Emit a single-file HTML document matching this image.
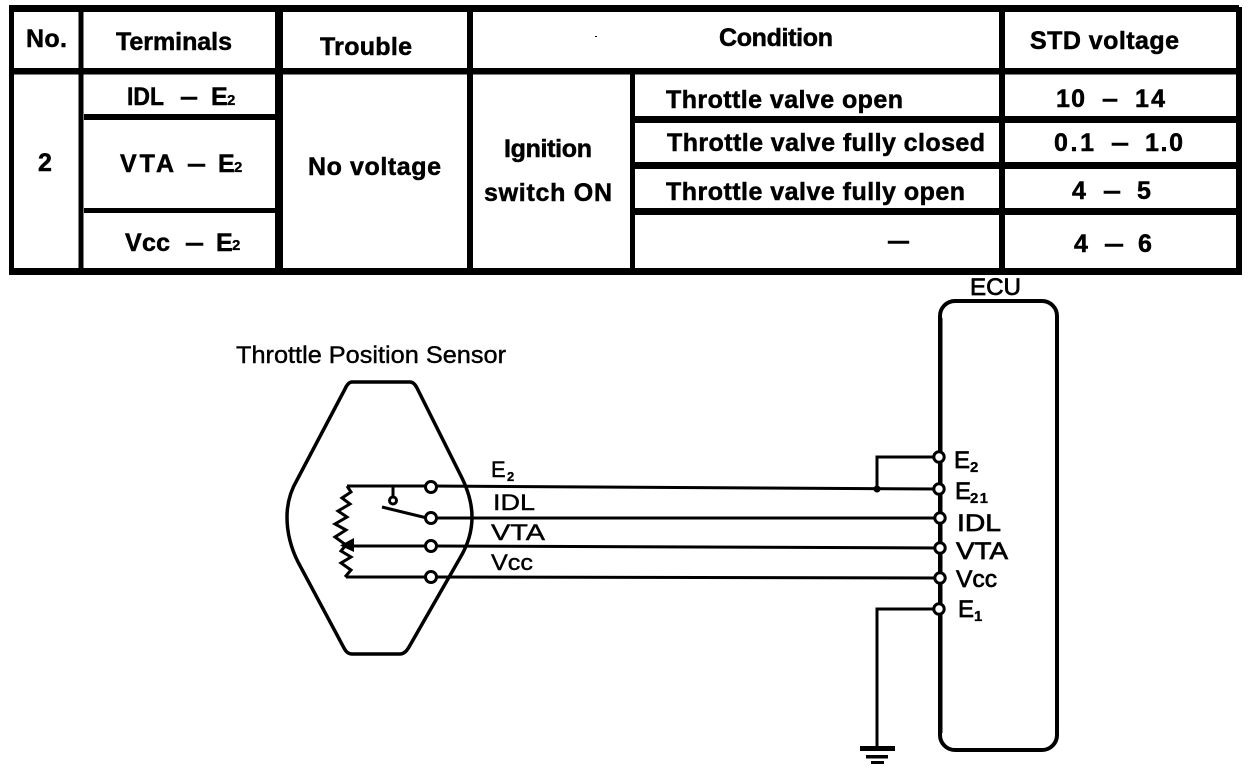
<!DOCTYPE html>
<html>
<head>
<meta charset="utf-8">
<style>
html,body{margin:0;padding:0;background:#fff;}
svg{display:block;}
text{font-family:"Liberation Sans",sans-serif;fill:#000;}
.t{font-weight:bold;font-size:25px;stroke:#000;stroke-width:.5px;}
.d{font-size:24px;stroke:#000;stroke-width:.4px;}
.w{font-size:22px;stroke:#000;stroke-width:.4px;}
.e{font-size:24px;stroke:#000;stroke-width:.7px;}
.s{font-size:15px;font-weight:bold;stroke:#000;stroke-width:.3px;}
</style>
</head>
<body>
<svg width="1248" height="770" viewBox="0 0 1248 770" xmlns="http://www.w3.org/2000/svg">
<rect width="1248" height="770" fill="#fff"/>
<!-- table lines -->
<g fill="#000">
<rect x="9" y="5" width="1230" height="7"/>
<rect x="9" y="268" width="1233" height="7"/>
<rect x="9" y="5" width="5" height="270"/>
<rect x="1236" y="7" width="6" height="268"/>
<rect x="9" y="68" width="1233" height="6.5"/>
<rect x="78.500" y="5" width="5" height="270"/>
<rect x="275" y="5" width="8" height="270"/>
<rect x="467" y="5" width="6" height="270"/>
<rect x="630" y="70" width="5" height="205"/>
<rect x="999" y="5" width="6" height="270"/>
<rect x="84" y="114" width="192" height="6"/>
<rect x="84" y="208" width="192" height="5"/>
<rect x="635" y="116" width="602" height="7"/>
<rect x="635" y="162" width="602" height="7"/>
<rect x="635" y="208" width="602" height="7"/>
<rect x="595" y="36" width="2" height="1"/>
</g>
<!-- table text -->
<text class="t" x="26" y="47" textLength="41" lengthAdjust="spacing">No.</text>
<text class="t" x="116" y="50" textLength="116" lengthAdjust="spacing">Terminals</text>
<text class="t" x="320" y="55" textLength="92" lengthAdjust="spacing">Trouble</text>
<text class="t" x="719" y="46" textLength="114" lengthAdjust="spacing">Condition</text>
<text class="t" x="1030" y="49" textLength="149" lengthAdjust="spacing">STD voltage</text>

<text class="t" x="127" y="105" textLength="37" lengthAdjust="spacingAndGlyphs">IDL</text>
<text class="t" x="180" y="105" textLength="18" lengthAdjust="spacingAndGlyphs">–</text>
<text class="t" x="211" y="105">E</text><text class="s" x="227" y="105">2</text>

<text class="t" x="120" y="172" textLength="54" lengthAdjust="spacing">VTA</text>
<text class="t" x="187" y="172" textLength="19" lengthAdjust="spacingAndGlyphs">–</text>
<text class="t" x="218" y="172">E</text><text class="s" x="234" y="172">2</text>

<text class="t" x="125" y="251" textLength="45" lengthAdjust="spacing">Vcc</text>
<text class="t" x="185" y="251" textLength="19" lengthAdjust="spacingAndGlyphs">–</text>
<text class="t" x="216" y="251">E</text><text class="s" x="232" y="250">2</text>

<text class="t" x="38" y="171">2</text>
<text class="t" x="308" y="175" textLength="133" lengthAdjust="spacing">No voltage</text>
<text class="t" x="504" y="157" textLength="88" lengthAdjust="spacing">Ignition</text>
<text class="t" x="484" y="201" textLength="128" lengthAdjust="spacing">switch ON</text>
<text class="t" x="666" y="108" textLength="237" lengthAdjust="spacing">Throttle valve open</text>
<text class="t" x="667" y="151" textLength="318" lengthAdjust="spacing">Throttle valve fully closed</text>
<text class="t" x="666" y="200" textLength="299" lengthAdjust="spacing">Throttle valve fully open</text>
<text class="t" x="888" y="249" textLength="21" lengthAdjust="spacingAndGlyphs">—</text>

<text class="t" x="1056" y="107" textLength="29" lengthAdjust="spacing">10</text>
<text class="t" x="1102" y="107" textLength="16" lengthAdjust="spacingAndGlyphs">–</text>
<text class="t" x="1135" y="107" textLength="30" lengthAdjust="spacing">14</text>

<text class="t" x="1054" y="151" textLength="40" lengthAdjust="spacing">0.1</text>
<text class="t" x="1111" y="151" textLength="18" lengthAdjust="spacingAndGlyphs">–</text>
<text class="t" x="1145" y="151" textLength="38" lengthAdjust="spacing">1.0</text>

<text class="t" x="1072" y="199">4</text>
<text class="t" x="1103" y="199" textLength="18" lengthAdjust="spacingAndGlyphs">–</text>
<text class="t" x="1137" y="199">5</text>

<text class="t" x="1074" y="252">4</text>
<text class="t" x="1104" y="252" textLength="20" lengthAdjust="spacingAndGlyphs">–</text>
<text class="t" x="1138" y="252">6</text>
<!-- diagram labels -->
<text class="d" x="236" y="363" textLength="270" lengthAdjust="spacingAndGlyphs">Throttle Position Sensor</text>
<text class="e" x="970" y="295" textLength="51" lengthAdjust="spacingAndGlyphs">ECU</text>
<!-- ECU box -->
<rect x="940" y="301" width="117" height="449" rx="15" ry="15" fill="none" stroke="#000" stroke-width="4"/>
<rect x="938" y="318" width="4.500" height="415" fill="#000"/>
<!-- Sensor outline -->
<path d="M352 382 L410 382 Q414 382 417 388 L460 474 Q472 497 472 517 Q472 538 460 558 L409 647 Q405 654 400 654 L352 654 Q347 654 344 648 L298 562 Q287 540 287 517 Q287 497 297 480 L345 389 Q348 382 352 382 Z" fill="none" stroke="#000" stroke-width="3.5"/>
<!-- wires -->
<g fill="none" stroke="#000" stroke-width="3">
<path d="M347 486 L431 486 L939 489"/>
<path d="M431 518 L940 518"/>
<path d="M350 546 L431 546 L940 548"/>
<path d="M346 577 L431 577 L940 578"/>
<path d="M382 507 L427 518"/>
<path d="M393 486 L393 498"/>
<path d="M347 486 L351 492 L342 498 L350 504 L338 511 L347 517 L335 524 L346 530 L335 537 L346 545 L341 551 L351 557 L341 563 L351 570 L345 577" stroke-linejoin="miter"/>
<path d="M939 457 L877 457 L877 489"/>
<path d="M939 609 L877 609 L877 748"/>
</g>
<path d="M340 545.500 L354 538 L354 552 Z" fill="#000"/>
<circle cx="877" cy="489" r="3.500" fill="#000"/>
<g fill="#000">
<rect x="860" y="746" width="35" height="5"/>
<rect x="866" y="755" width="22" height="3.500"/>
<rect x="871" y="761" width="13" height="3"/>
</g>
<!-- terminals -->
<g fill="#fff" stroke="#000" stroke-width="3">
<circle cx="393" cy="500.500" r="3.500"/>
<circle cx="431" cy="487" r="5.500"/>
<circle cx="431" cy="518" r="5.500"/>
<circle cx="431" cy="546" r="5.500"/>
<circle cx="431" cy="577" r="5.500"/>
<circle cx="939" cy="457" r="5.200"/>
<circle cx="939" cy="489" r="5.200"/>
<circle cx="940" cy="518" r="5.200"/>
<circle cx="940" cy="548" r="5.200"/>
<circle cx="940" cy="578" r="5.200"/>
<circle cx="939" cy="609" r="5.200"/>
</g>
<!-- wire labels -->
<text class="w" x="491" y="477">E</text><text class="s" x="507" y="481" style="font-size:13px">2</text>
<text class="w" x="493" y="510" textLength="42" lengthAdjust="spacingAndGlyphs">IDL</text>
<text class="w" x="491" y="540" textLength="54" lengthAdjust="spacingAndGlyphs">VTA</text>
<text class="w" x="491" y="570" textLength="42" lengthAdjust="spacingAndGlyphs">Vcc</text>
<!-- ECU labels -->
<text class="e" x="954" y="468">E</text><text class="s" x="970" y="472">2</text>
<text class="e" x="955" y="499">E</text><text class="s" x="970" y="503" textLength="18">21</text>
<text class="e" x="957" y="531" textLength="44" lengthAdjust="spacingAndGlyphs">IDL</text>
<text class="e" x="956" y="559" textLength="52" lengthAdjust="spacingAndGlyphs">VTA</text>
<text class="e" x="956" y="587" textLength="41" lengthAdjust="spacingAndGlyphs">Vcc</text>
<text class="e" x="958" y="617">E</text><text class="s" x="974" y="621">1</text>
</svg>
</body>
</html>
